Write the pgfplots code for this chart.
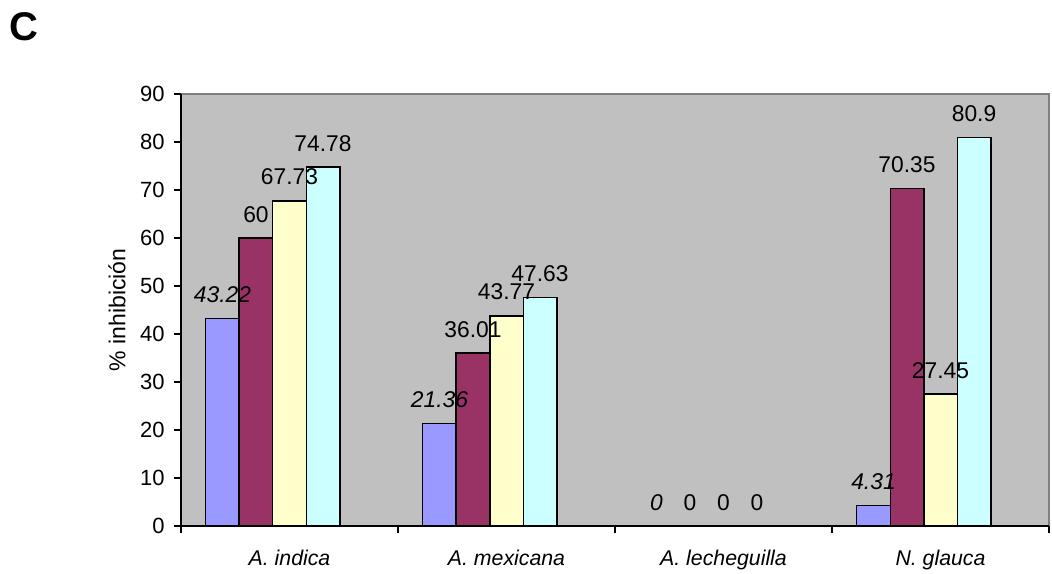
\documentclass[border=0pt]{standalone}
\usepackage{pgfplots}
\pgfplotsset{compat=1.18}
\usepackage{fontspec}
\setmainfont{Liberation Sans}
\definecolor{sA}{HTML}{9999FF}
\definecolor{sB}{HTML}{993366}
\definecolor{sC}{HTML}{FFFFCC}
\definecolor{sD}{HTML}{CCFFFF}
\definecolor{bg}{HTML}{C0C0C0}
\definecolor{frame}{HTML}{808080}
\begin{document}
\begin{tikzpicture}
\path[use as bounding box] (-90.5pt,-23.5pt) rectangle (435.5pt,263pt);
\node[font=\fontsize{20}{22}\selectfont\bfseries] at (-78.5pt,249.6pt) {C};
\begin{axis}[
  at={(0,0)}, anchor=south west,
  scale only axis, width=434pt, height=216pt,
  ybar, bar width=0.1544,
  xmin=-0.5, xmax=3.5, ymin=0, ymax=90,
  ytick={0,10,...,90},
  xtick={-0.5,0.5,1.5,2.5,3.5}, xticklabels={},
  extra x ticks={0,1,2,3},
  extra x tick labels={A. indica, A. mexicana, A. lecheguilla, N. glauca},
  extra x tick style={major tick length=0pt, grid=none,
     tick label style={font=\fontsize{10.65}{12}\selectfont\itshape, anchor=base, yshift=-19.5pt}},
  axis lines*=left,
  axis line style={black, line width=0.75pt},
  tick align=outside,
  major tick length=3.5pt,
  tick style={black, line width=0.75pt},
  axis background/.style={fill=bg, draw=frame, line width=0.75pt},
  /pgf/number format/assume math mode=true,
  yticklabel style={font=\fontsize{11}{12}\selectfont, anchor=east, inner sep=0pt, xshift=-4.5pt},
  ylabel={\% inhibición},
  ylabel style={at={(axis description cs:-0.0737,0.5)}, anchor=center, font=\fontsize{11.5}{13}\selectfont},
  nodes near coords,
  every node near coord/.append style={font=\fontsize{11.4}{13}\selectfont, anchor=base, yshift=8pt, inner sep=0pt},
  clip=false,
]
\addplot[fill=sA, draw=black, line width=0.75pt, bar shift=-0.3088,
  every node near coord/.append style={font=\fontsize{11.4}{13}\selectfont\itshape}]
  coordinates {(0,43.22) (1,21.36) (2,0) (3,4.31)};
\addplot[fill=sB, draw=black, line width=0.75pt, bar shift=-0.1544]
  coordinates {(0,60) (1,36.01) (2,0) (3,70.35)};
\addplot[fill=sC, draw=black, line width=0.75pt, bar shift=0]
  coordinates {(0,67.73) (1,43.77) (2,0) (3,27.45)};
\addplot[fill=sD, draw=black, line width=0.75pt, bar shift=0.1544]
  coordinates {(0,74.78) (1,47.63) (2,0) (3,80.9)};
\end{axis}
\end{tikzpicture}
\end{document}
